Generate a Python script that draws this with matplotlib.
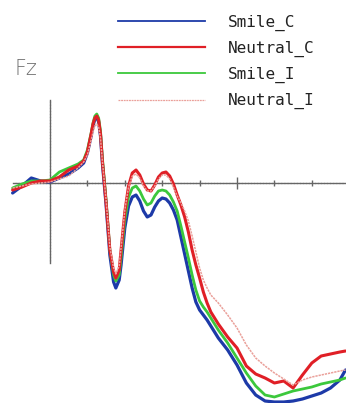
import matplotlib
matplotlib.use("Agg")
import matplotlib.pyplot as plt
from matplotlib.lines import Line2D
from matplotlib.ticker import FixedLocator, NullFormatter

# Time (ms)
time_ms = [-100, -75, -50, -25, 0, 25, 50, 75, 90, 100, 110, 115, 120, 125, 130, 135, 140, 150, 160,
           170, 176, 185, 190, 200, 210, 220, 230, 240, 250, 260, 270, 280, 290, 300, 310, 320,
           330, 340, 350, 360, 370, 380, 390, 400, 410, 420, 430, 450, 475, 500, 525, 550, 575,
           600, 625, 650, 675, 700, 725, 750, 775, 790]

# Amplitude (uV) per condition
smile_c = [-1.0, -0.3, 0.5, 0.2, 0.1, 0.5, 0.9, 1.5, 2.0, 3.0, 4.7, 5.7, 6.4, 6.6, 6.1, 4.7, 2.0, -2.2,
           -7.2, -9.9, -10.5, -9.7, -8.2, -4.5, -2.3, -1.4, -1.2, -1.8, -2.8, -3.4, -3.2, -2.4,
           -1.8, -1.5, -1.6, -2.0, -2.7, -3.7, -5.4, -7.1, -8.8, -10.5, -11.9, -12.7, -13.2,
           -13.7, -14.3, -15.5, -16.7, -18.2, -20.0, -21.2, -21.8, -21.9, -21.9, -21.8, -21.6,
           -21.3, -21.0, -20.5, -19.7, -18.7]
neutral_c = [-0.7, -0.4, 0.0, 0.2, 0.2, 0.6, 1.3, 1.7, 2.2, 3.1, 4.9, 5.9, 6.5, 6.7, 6.3, 4.9, 2.2, -2.0,
             -6.7, -8.9, -9.5, -8.7, -6.7, -2.9, -0.3, 1.0, 1.3, 0.8, -0.1, -0.7, -0.8, -0.2, 0.6,
             1.0, 1.1, 0.7, -0.1, -1.2, -2.2, -3.4, -4.9, -6.7, -8.2, -9.5, -10.9, -12.0, -12.9,
             -14.1, -15.4, -16.5, -18.3, -19.1, -19.5, -20.0, -19.8, -20.5, -19.2, -18.0, -17.3,
             -17.1, -16.9, -16.8]
smile_i = [-0.5, -0.1, 0.2, 0.2, 0.3, 1.1, 1.5, 1.9, 2.3, 3.3, 5.0, 6.0, 6.7, 6.9, 6.5, 5.2, 2.5, -1.7,
           -6.7, -9.2, -9.8, -9.2, -7.5, -3.7, -1.4, -0.5, -0.3, -0.8, -1.6, -2.2, -2.0, -1.3,
           -0.8, -0.7, -0.8, -1.2, -1.9, -2.8, -4.3, -5.9, -7.5, -9.2, -10.7, -11.8, -12.4, -12.9,
           -13.5, -14.7, -16.0, -17.5, -19.0, -20.3, -21.2, -21.4, -21.1, -20.8, -20.6, -20.4,
           -20.1, -19.9, -19.7, -19.5]
neutral_i = [-0.5, -0.3, -0.1, 0.0, 0.1, 0.4, 0.7, 1.5, 2.1, 2.8, 4.3, 5.1, 5.7, 5.9, 5.6, 4.5, 2.2, -1.7,
             -6.4, -8.5, -9.1, -8.3, -6.5, -2.7, -0.4, 0.7, 0.9, 0.5, -0.3, -0.8, -0.8, -0.3, 0.4,
             0.8, 0.8, 0.4, -0.4, -1.3, -2.0, -2.8, -3.8, -5.3, -6.9, -8.5, -9.7, -10.5, -11.2,
             -12.0, -13.2, -14.5, -16.2, -17.5, -18.3, -19.0, -19.6, -20.2, -19.7, -19.4, -19.2,
             -19.0, -18.8, -18.7]

labels = ["Smile_C", "Neutral_C", "Smile_I", "Neutral_I"]
minor_ticks = [100, 200, 300, 400, 600, 700]
major_ticks = [500]

fig = plt.figure(figsize=(3.46, 4.03), dpi=100)
ax = fig.add_axes([0, 0, 1, 1])
ax.set_xlim(-133.7, 791.4)
ax.set_ylim(-22.0, 18.3)

kw = dict(solid_capstyle="round", solid_joinstyle="round")
ax.plot(time_ms, smile_c, color="#1d3aa8", lw=2.3, zorder=3, **kw)
ax.plot(time_ms, smile_i, color="#3cc83c", lw=2.0, zorder=4, **kw)
ax.plot(time_ms, neutral_c, color="#e01f26", lw=2.2, zorder=5, **kw)
ax.plot(time_ms, neutral_i, color="#eaa09a", lw=1.1, zorder=6, linestyle=(0, (1.5, 0.6)))

axis_col = "#666666"
for side in ("top", "right"):
    ax.spines[side].set_visible(False)
ax.spines["left"].set_position(("data", 0))
ax.spines["bottom"].set_position(("data", 0))
ax.spines["left"].set_bounds(-8.0, 8.3)
ax.spines["bottom"].set_bounds(-100, 791)
for side in ("left", "bottom"):
    ax.spines[side].set_color(axis_col)
    ax.spines[side].set_linewidth(1.0)
    ax.spines[side].set_linestyle((0, (1.5, 0.7)))
    ax.spines[side].set_zorder(1)
ax.set_yticks([])
ax.xaxis.set_major_locator(FixedLocator(major_ticks))
ax.xaxis.set_minor_locator(FixedLocator(minor_ticks))
ax.xaxis.set_major_formatter(NullFormatter())
ax.tick_params(axis="x", which="major", direction="inout", length=9, width=1.0, color=axis_col)
ax.tick_params(axis="x", which="minor", direction="inout", length=5, width=1.0, color=axis_col)

ax.text(0.043, 0.814, "Fz", transform=ax.transAxes, fontsize=15, color="#707070",
        family="DejaVu Sans", fontweight="light", ha="left", va="baseline")

handles = [Line2D([], [], color="#1d3aa8", lw=1.3),
           Line2D([], [], color="#e01f26", lw=1.6),
           Line2D([], [], color="#3cc83c", lw=1.3),
           Line2D([], [], color="#eaa09a", lw=0.9, linestyle=(0, (1.5, 0.6)))]
leg = ax.legend(handles, labels, loc="upper left", bbox_to_anchor=(0.304, 0.995),
                frameon=False, prop={"family": "DejaVu Sans Mono", "size": 11.5},
                handlelength=5.45, handletextpad=1.45, labelspacing=0.62, borderpad=0.3)
for t in leg.get_texts():
    t.set_color("#222222")

fig.savefig("out.png", dpi=100, facecolor="white")
